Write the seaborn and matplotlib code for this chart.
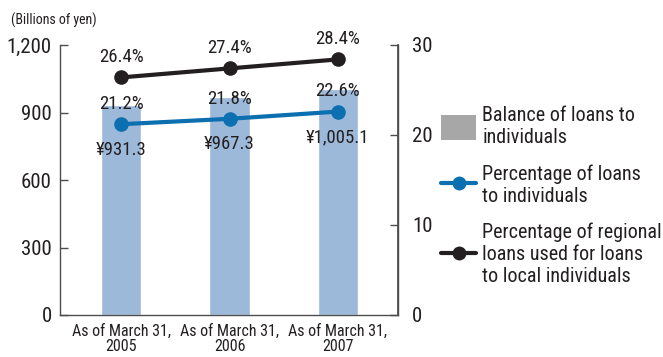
import matplotlib
matplotlib.use("Agg")
import matplotlib.pyplot as plt
import seaborn as sns
import pandas as pd
from matplotlib.patches import Patch
from matplotlib.lines import Line2D

categories = ["As of March 31,\n2005", "As of March 31,\n2006", "As of March 31,\n2007"]
balance = [931.3, 967.3, 1005.1]
balance_labels = ["¥931.3", "¥967.3", "¥1,005.1"]
pct_individuals = [21.2, 21.8, 22.6]
pct_regional = [26.4, 27.4, 28.4]
left_ticks = [0, 300, 600, 900, 1200]
left_ticklabels = ["0", "300", "600", "900", "1,200"]
right_ticks = [0, 10, 20, 30]

sns.set_theme(style="white")
plt.rcParams['font.family'] = ['Roboto Condensed', 'DejaVu Sans']

BAR = "#9cb9da"
BLUE = "#0b6fb0"
BLACK = "#231f20"
TXT = "#231f20"
AXC = "#4d4d4d"

df = pd.DataFrame({"cat": categories, "balance": balance})

fig = plt.figure(figsize=(6.63, 3.57), dpi=100)
ax = fig.add_axes([60/663, 42/357, 338/663, 270/357])
sns.barplot(data=df, x="cat", y="balance", color=BAR, width=0.37, saturation=1, ax=ax, zorder=1)
ax.set_ylim(0, 1200)
ax.set_xlim(-0.565, 2.555)
ax.set_yticks(left_ticks)
ax.set_yticklabels(left_ticklabels)
ax.set_xlabel("")
ax.set_ylabel("")
ax.tick_params(axis="y", direction="in", length=6, width=1, colors=AXC, labelcolor=TXT, labelsize=15, left=True, pad=6)
ax.tick_params(axis="x", length=0, labelsize=11.5, labelcolor=TXT, pad=6)
for lab in ax.get_xticklabels():
    lab.set_linespacing(1.0)
for s in ["left", "bottom", "right"]:
    ax.spines[s].set_color(AXC)
    ax.spines[s].set_linewidth(1)
ax.spines["top"].set_visible(False)

ax2 = ax.twinx()
ax2.set_ylim(0, 30)
ax2.set_yticks(right_ticks)
ax2.tick_params(axis="y", direction="in", length=6, width=1, colors=AXC, labelcolor=TXT, labelsize=15, right=True, pad=10)
ax2.spines["top"].set_visible(False)
ax2.spines["left"].set_visible(False)
ax2.spines["bottom"].set_visible(False)
ax2.spines["right"].set_color(AXC)
ax2.grid(False)
ax.grid(False)

xs = [0, 1, 2]
sns.lineplot(x=xs, y=pct_individuals, color=BLUE, lw=3, marker="o", markersize=10.5, markeredgewidth=0, ax=ax2, zorder=3)
sns.lineplot(x=xs, y=pct_regional, color=BLACK, lw=3, marker="o", markersize=10.5, markeredgewidth=0, ax=ax2, zorder=3)
ax2.set_xlim(-0.565, 2.555)

for x, v in zip(xs, pct_individuals):
    ax2.annotate(f"{v}%", (x, v), xytext=(0, 8), textcoords="offset points", ha="center", va="bottom", fontsize=13.5, color=TXT)
for x, v in zip(xs, pct_regional):
    ax2.annotate(f"{v}%", (x, v), xytext=(0, 8), textcoords="offset points", ha="center", va="bottom", fontsize=13.5, color=TXT)
for x, v, lab in zip(xs, pct_individuals, balance_labels):
    ax2.annotate(lab, (x, v), xytext=(0, -12), textcoords="offset points", ha="center", va="top", fontsize=13.5, color=TXT)

fig.text(11/663, 1 - 20/357, "(Billions of yen)", fontsize=10, color=TXT, va="center", ha="left")

handles = [
    Patch(facecolor="#a7a7a7", edgecolor="none"),
    Line2D([0], [0], color=BLUE, lw=3, marker="o", markersize=10, markeredgewidth=0),
    Line2D([0], [0], color=BLACK, lw=3, marker="o", markersize=10, markeredgewidth=0),
]
labels = ["Balance of loans to\nindividuals",
          "Percentage of loans\nto individuals",
          "Percentage of regional\nloans used for loans\nto local individuals"]
leg = fig.legend(handles, labels, loc="upper left", bbox_to_anchor=(441/663, 1 - 106/357), frameon=False,
                 fontsize=14.5, handlelength=1.75, handleheight=1.5, handletextpad=0.3, labelspacing=0.85,
                 labelcolor=TXT, borderpad=0, borderaxespad=0)
for t in leg.get_texts():
    t.set_linespacing(1.2)

fig.savefig("out.png", dpi=100)
